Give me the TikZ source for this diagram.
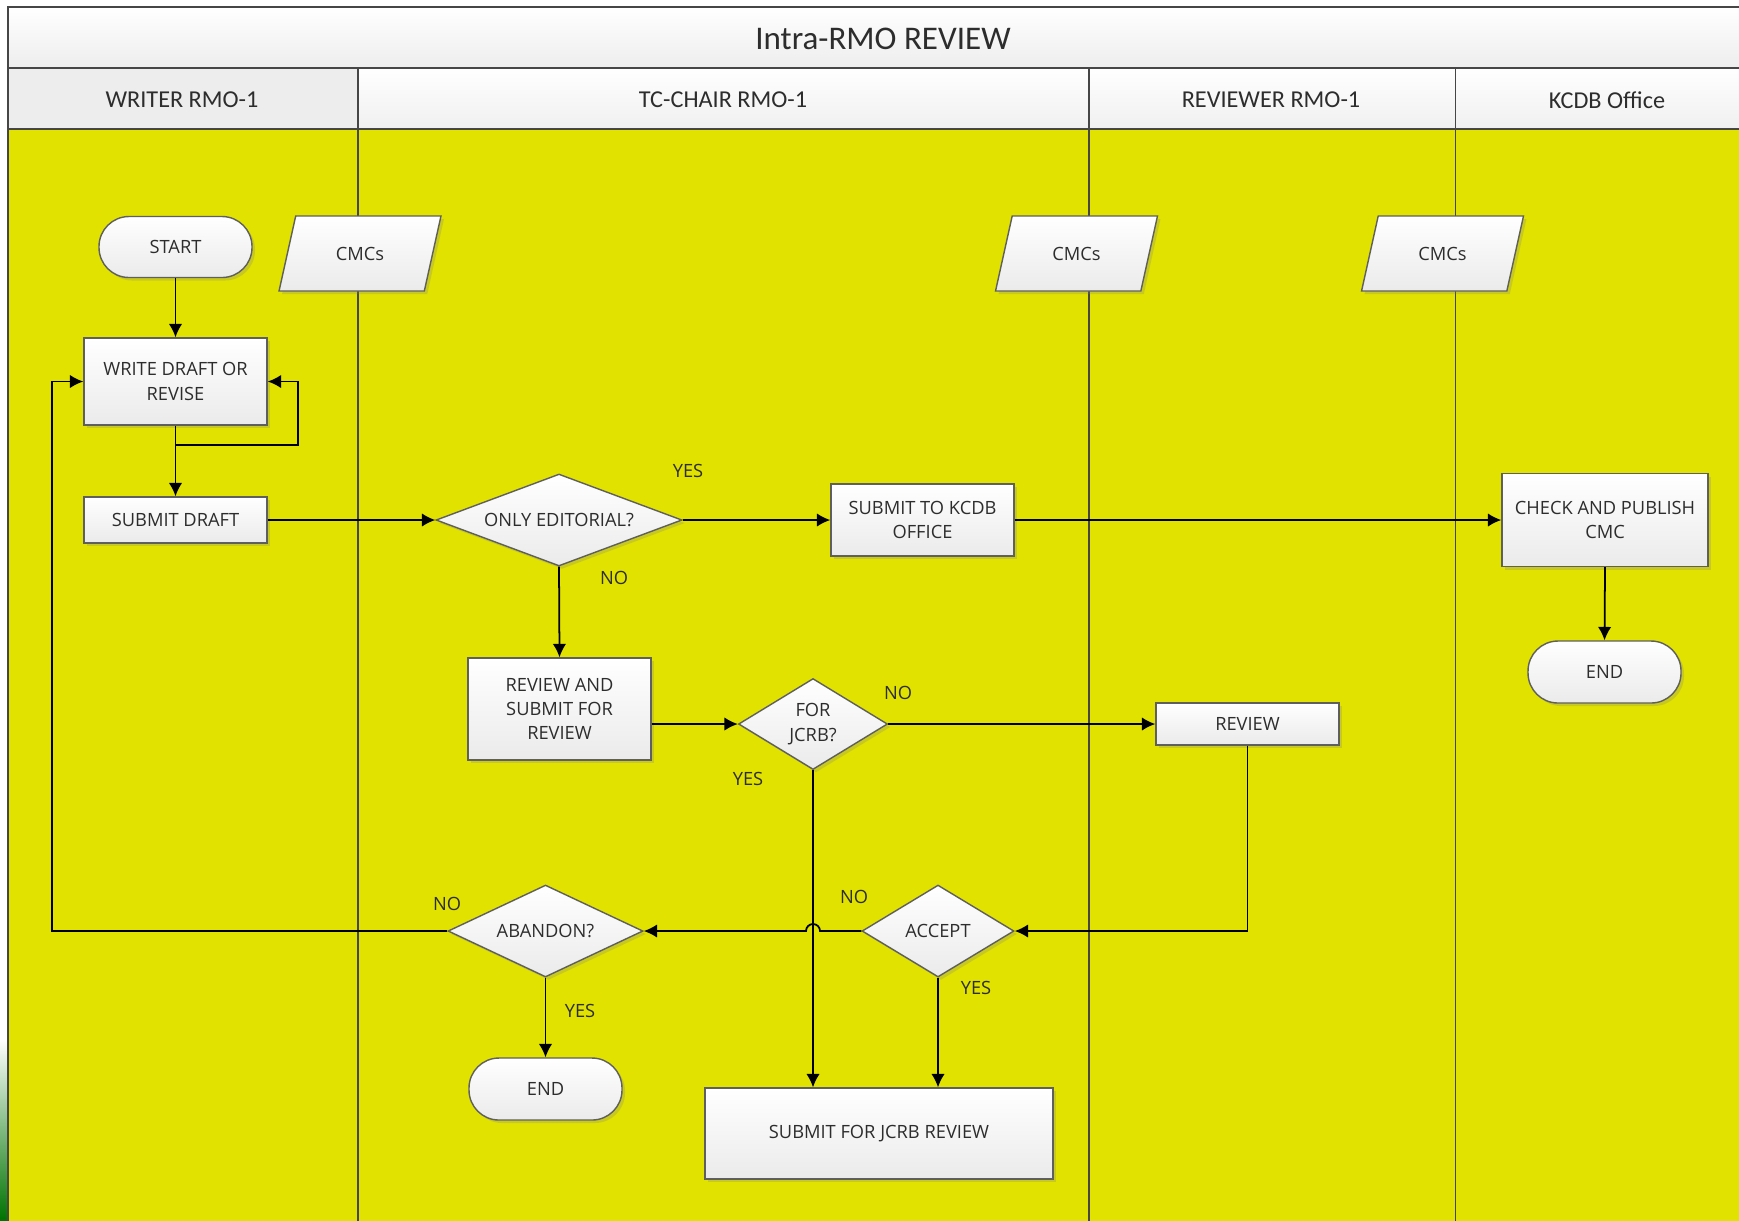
\documentclass[tikz,border=0pt]{standalone}
\usepackage{fontspec}
\setmainfont{Open Sans}
\newfontfamily\hdfont{Carlito}
\usetikzlibrary{shapes.geometric,shapes.misc,shadows,arrows.meta,calc}

\definecolor{lane}{RGB}{225,226,0}
\definecolor{bord}{RGB}{95,95,95}
\definecolor{txt}{RGB}{45,45,45}
\definecolor{frame}{RGB}{70,70,70}

\tikzset{
 box/.style={draw=bord, line width=0.4pt, top color=white, bottom color=black!8,
   text=txt, font=\fontsize{5.2}{6.9}\selectfont, align=center, inner sep=0pt,
   drop shadow={shadow xshift=0.03cm, shadow yshift=-0.03cm, opacity=0.25}},
 proc/.style={box, rectangle},
 term/.style={box, rectangle, rounded corners=0.3cm},
 dec/.style={box, diamond, aspect=2.67},
 data/.style={box, trapezium, trapezium left angle=65, trapezium right angle=115,
   trapezium stretches=true, minimum width=1.62cm, minimum height=0.75cm},
 arr/.style={draw=black, line width=0.5pt, -{Latex[length=3.8pt,width=3.8pt]}},
 lbl/.style={text=txt, font=\fontsize{5.2}{6.9}\selectfont, inner sep=0pt},
 hdr/.style={text=txt, font=\hdfont\fontsize{6.9}{8}\selectfont, inner sep=0pt},
 divl/.style={draw=frame, line width=0.35pt},
 frm/.style={draw=frame, line width=0.5pt},
}

\begin{document}
\begin{tikzpicture}
\clip (0,0) rectangle (17.39,-12.20);
\fill[white] (0,0) rectangle (17.39,-12.20);
\shade[top color=white, bottom color=green!45!black] (0,-10.40) rectangle (0.08,-12.20);

% title band and headers
\shade[top color=white, bottom color=black!7] (0.08,-0.07) rectangle (17.6,-0.68);
\fill[black!7] (0.08,-0.68) rectangle (3.58,-1.29);
\shade[top color=white, bottom color=black!6] (3.58,-0.68) rectangle (17.6,-1.29);
\fill[lane] (0.08,-1.29) rectangle (17.6,-12.3);

\draw[frm] (17.6,-0.07) -- (0.08,-0.07) -- (0.08,-12.3);
\draw[frm] (0.08,-0.68) -- (17.6,-0.68);
\draw[frm, line width=0.7pt] (0.08,-1.29) -- (17.6,-1.29);
\draw[divl] (3.58,-0.68) -- (3.58,-12.3);
\draw[divl] (10.89,-0.68) -- (10.89,-12.3);
\draw[divl] (14.555,-0.68) -- (14.555,-12.3);

\node[hdr, font=\hdfont\fontsize{9.4}{11}\selectfont] (title) at (8.83,-0.39) {Intra-RMO REVIEW};
\node[hdr] (h1) at (1.82,-1.00) {WRITER RMO-1};
\node[hdr] (h2) at (7.23,-1.00) {TC-CHAIR RMO-1};
\node[hdr] (h3) at (12.71,-1.00) {REVIEWER RMO-1};
\node[hdr] (h4) at (16.07,-1.00) {KCDB Office};

% nodes
\node[term, minimum width=1.53cm, minimum height=0.61cm] (start) at (1.755,-2.47) {START};
\node[data] (cmc1) at (3.60,-2.535) {CMCs};
\node[data] (cmc2) at (10.765,-2.535) {CMCs};
\node[data] (cmc3) at (14.425,-2.535) {CMCs};
\node[proc, minimum width=1.83cm, minimum height=0.87cm] (write) at (1.755,-3.815) {WRITE DRAFT OR\\REVISE};
\node[proc, minimum width=1.83cm, minimum height=0.46cm] (sd) at (1.755,-5.20) {SUBMIT DRAFT};
\node[dec, minimum width=2.46cm, minimum height=0.92cm] (oe) at (5.59,-5.20) {ONLY EDITORIAL?};
\node[proc, minimum width=1.83cm, minimum height=0.72cm] (sk) at (9.225,-5.20) {SUBMIT TO KCDB\\OFFICE};
\node[proc, minimum width=2.06cm, minimum height=0.93cm] (cp) at (16.05,-5.20) {CHECK AND PUBLISH\\CMC};
\node[term, minimum width=1.53cm, minimum height=0.62cm] (end2) at (16.045,-6.72) {END};
\node[proc, minimum width=1.83cm, minimum height=1.02cm] (rs) at (5.595,-7.09) {REVIEW AND\\SUBMIT FOR\\REVIEW};
\node[dec, aspect=1.6, minimum width=1.49cm, minimum height=0.91cm] (jcrb) at (8.13,-7.24) {FOR\\JCRB?};
\node[proc, minimum width=1.83cm, minimum height=0.42cm] (rev) at (12.475,-7.24) {REVIEW};
\node[dec, minimum width=1.95cm, minimum height=0.92cm] (ab) at (5.455,-9.31) {ABANDON?};
\node[dec, minimum width=1.52cm, minimum height=0.92cm] (acc) at (9.38,-9.31) {ACCEPT};
\node[term, minimum width=1.53cm, minimum height=0.62cm] (end1) at (5.455,-10.89) {END};
\node[proc, minimum width=3.48cm, minimum height=0.91cm] (sfj) at (8.79,-11.335) {SUBMIT FOR JCRB REVIEW};

% connectors
\draw[arr] (start) -- (write);
\draw[arr] (write.south) -- (sd.north);
\draw[arr] ([yshift=-0.19cm]write.south) -| ([xshift=0.30cm]write.east) -- (write.east);
\draw[arr] (sd.east) -- (oe.west);
\draw[arr] (oe.east) -- (sk.west);
\draw[arr] (sk.east) -- (cp.west);
\draw[arr] (cp.south) -- (end2.north);
\draw[arr] (oe.south) -- (rs.north);
\draw[arr] (rs.east |- jcrb.west) -- (jcrb.west);
\draw[arr] (jcrb.east) -- (rev.west);
\draw[arr] (jcrb.south) -- (jcrb.south |- sfj.north);
\draw[arr] (rev.south) |- (acc.east);
\draw[arr] (acc.south) -- (acc.south |- sfj.north);
\draw[arr] (acc.west) -- ([xshift=0.07cm]jcrb.south |- acc.west)
   arc[start angle=0, end angle=180, radius=0.07cm] -- (ab.east);
\draw[arr] (ab.west) -| ([xshift=-0.31cm]write.west) -- (write.west);
\draw[arr] (ab.south) -- (end1.north);

% labels
\node[lbl] (l1) at (6.88,-4.71) {YES};
\node[lbl] (l2) at (6.14,-5.78) {NO};
\node[lbl] (l3) at (8.98,-6.93) {NO};
\node[lbl] (l4) at (7.48,-7.79) {YES};
\node[lbl] (l5) at (8.54,-8.97) {NO};
\node[lbl] (l6) at (9.76,-9.88) {YES};
\node[lbl] (l7) at (4.47,-9.04) {NO};
\node[lbl] (l8) at (5.80,-10.11) {YES};
\end{tikzpicture}
\end{document}
